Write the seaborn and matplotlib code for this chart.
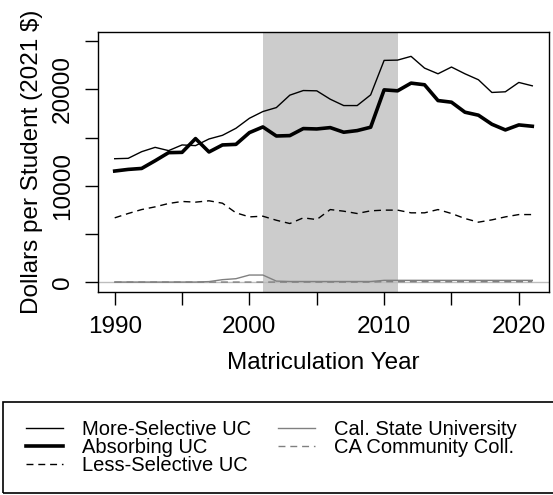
import numpy as np
import pandas as pd
import matplotlib
matplotlib.use('Agg')
import matplotlib.pyplot as plt
import seaborn as sns
from matplotlib.lines import Line2D
from matplotlib.patches import Rectangle

# Data
years = list(range(1990, 2022))

more_selective = [12810, 12850, 13540, 13990, 13650, 14240, 14170, 14860, 15240, 15970,
                  17010, 17710, 18120, 19410, 19890, 19860, 18990, 18330, 18330, 19440,
                  23020, 23050, 23440, 22220, 21630, 22330, 21630, 21010, 19690, 19760,
                  20730, 20380]
absorbing = [11530, 11700, 11800, 12600, 13440, 13470, 14900, 13510, 14240, 14300,
             15520, 16110, 15170, 15210, 15940, 15900, 16040, 15560, 15730, 16080,
             19960, 19860, 20660, 20490, 18850, 18680, 17640, 17330, 16390, 15800,
             16320, 16180]
less_selective = [6670, 7120, 7530, 7810, 8160, 8370, 8300, 8440, 8190, 7190,
                  6770, 6840, 6420, 6080, 6670, 6490, 7530, 7360, 7120, 7400,
                  7470, 7470, 7190, 7190, 7530, 7120, 6600, 6220, 6460, 6770,
                  7010, 7010]
cal_state = [0, 0, 0, 0, 0, 0, 0, 50, 250, 350,
             730, 730, 100, 60, 60, 60, 60, 60, 60, 60,
             180, 180, 180, 180, 180, 180, 180, 180, 180, 180,
             180, 180]
community = [0, 0, 0, 0, 0, 0, 0, 0, 0, 0,
             0, 0, 0, 0, 0, 0, 0, 0, 0, 0,
             40, 40, 40, 40, 40, 40, 40, 40, 40, 40,
             40, 40]

series_names = ['More-Selective UC', 'Absorbing UC', 'Less-Selective UC',
                'Cal. State University', 'CA Community Coll.']
series_values = [more_selective, absorbing, less_selective, cal_state, community]

recession_start, recession_end = 2001, 2011

x_ticks = [1990, 1995, 2000, 2005, 2010, 2015, 2020]
x_labels = ['1990', '', '2000', '', '2010', '', '2020']
y_ticks = [0, 5000, 10000, 15000, 20000, 25000]
y_labels = ['0', '', '10000', '', '20000', '']

styles = {
    'More-Selective UC': dict(color='black', linewidth=1.0, linestyle='-'),
    'Absorbing UC': dict(color='black', linewidth=2.6, linestyle='-'),
    'Less-Selective UC': dict(color='black', linewidth=1.0, linestyle=(0, (5, 3.5))),
    'Cal. State University': dict(color='#808080', linewidth=1.0, linestyle='-'),
    'CA Community Coll.': dict(color='#808080', linewidth=1.0, linestyle=(0, (5, 3.5))),
}

plt.rcParams['font.family'] = ['Liberation Sans', 'DejaVu Sans']

df = pd.DataFrame({'year': years})
for name, vals in zip(series_names, series_values):
    df[name] = vals

fig = plt.figure(figsize=(5.53, 4.95), dpi=100)
ax = fig.add_axes([98 / 553, 1 - 291.7 / 495, (549 - 98) / 553, (291.7 - 31.7) / 495])

ax.axvspan(recession_start, recession_end, color='#cccccc', lw=0, zorder=0)
ax.axhline(0, color='#bdbdbd', linewidth=1.0, zorder=1)

# draw in reverse so the UC lines sit on top
for name in reversed(series_names):
    sns.lineplot(data=df, x='year', y=name, ax=ax, zorder=3, **styles[name])

ax.set_xlim(1988.76, 2022.24)
ax.set_ylim(-1000, 26000)
ax.set_xticks(x_ticks)
ax.set_xticklabels(x_labels, fontsize=17.5)
ax.set_yticks(y_ticks)
ax.set_yticklabels(y_labels, fontsize=17.5, rotation=90, va='center')
ax.tick_params(axis='both', direction='out', length=9.5, width=1, color='black')
ax.tick_params(axis='y', pad=8)
ax.tick_params(axis='x', pad=8)
for s in ax.spines.values():
    s.set_color('black')
    s.set_linewidth(1)

ax.set_xlabel('Matriculation Year', fontsize=17.5, labelpad=10)
ax.set_ylabel('Dollars per Student (2021 $)', fontsize=17.5, labelpad=6)

# legend in an open-ended box below the plot
fig.patches.append(Rectangle((3 / 553, 2 / 495), 1.2, 91 / 495, transform=fig.transFigure,
                             fill=False, edgecolor='black', linewidth=1.2))
handles = [Line2D([], [], **styles[n]) for n in series_names]
fig.legend(handles, series_names, ncol=2, loc='upper left',
           bbox_to_anchor=(26 / 553, 1 - 420 / 495), frameon=False, fontsize=14.5,
           handlelength=1.85, handletextpad=0.95, labelspacing=-0.05, columnspacing=1.3,
           borderaxespad=0, borderpad=0)

fig.savefig('out.png', dpi=100)
